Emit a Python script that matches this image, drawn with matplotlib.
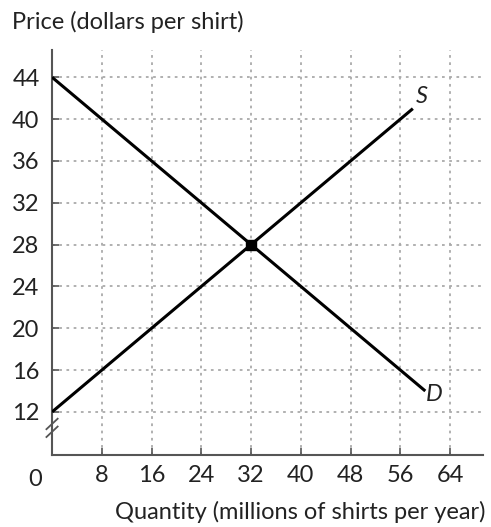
import matplotlib
matplotlib.use("Agg")
import matplotlib.pyplot as plt

# ── Data ─────────────────────────────────────────────────────────────────────
qty_ticks = [8, 16, 24, 32, 40, 48, 56, 64]
price_ticks = [12, 16, 20, 24, 28, 32, 36, 40, 44]

supply_q = [0, 58]
supply_p = [12, 41]
demand_q = [0, 60]
demand_p = [44, 14]
eq_q, eq_p = 32, 28

plt.rcParams['font.family'] = ['Lato', 'DejaVu Sans']
INK = "#222222"
AX = "#555555"
FS = 17

fig = plt.figure(figsize=(4.91, 5.27), dpi=100)
ax = fig.add_axes([0.106, 0.137, 0.878, 0.768])
ax.set_xlim(0, 69.3)
ax.set_ylim(7.9, 46.6)

ax.plot(supply_q, supply_p, color="black", lw=2.2, solid_capstyle="butt", zorder=3)
ax.plot(demand_q, demand_p, color="black", lw=2.2, solid_capstyle="butt", zorder=3)
ax.plot([eq_q], [eq_p], marker="s", ms=7, color="black", zorder=4)

ax.text(supply_q[1] + 0.5, supply_p[1] + 0.5, "S", style="italic", fontsize=FS, color=INK)
ax.text(demand_q[1] + 0.1, demand_p[1] - 1.0, "D", style="italic", fontsize=FS, color=INK)

ax.set_xticks(qty_ticks)
ax.set_yticks(price_ticks)
ax.tick_params(axis="both", direction="in", length=5, width=1.2, colors=AX,
               labelcolor=INK, labelsize=FS)
ax.tick_params(axis="y", pad=9)
ax.tick_params(axis="x", pad=7)
ax.grid(True, color="#aaaaaa", ls=(0, (1.5, 2.5)), lw=1.3)

for s in ["top", "right"]:
    ax.spines[s].set_visible(False)
for s in ["left", "bottom"]:
    ax.spines[s].set_color(AX)
    ax.spines[s].set_linewidth(1.5)

# origin label and axis break
ax.text(-2.8, 6.5, "0", ha="center", va="top", fontsize=FS, color=INK, clip_on=False)
for dy in (0.0, 0.75):
    ax.plot([-0.9, 0.9], [9.6 + dy, 10.6 + dy], color=AX, lw=1.3, clip_on=False)

fig.text(0.024, 0.958, "Price (dollars per shirt)", fontsize=FS, color=INK, va="center")
fig.text(0.988, 0.028, "Quantity (millions of shirts per year)", fontsize=FS,
         color=INK, ha="right", va="center")

fig.savefig("out.png", dpi=100)
